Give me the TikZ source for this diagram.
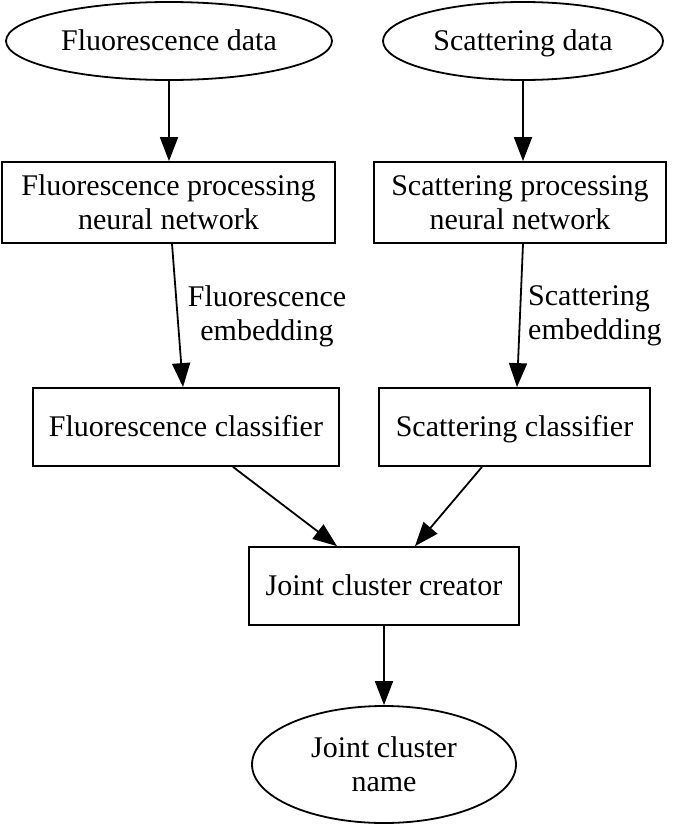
\documentclass[tikz,border=0pt]{standalone}
\usepackage{fontspec}
\setmainfont{Liberation Serif}
\usetikzlibrary{arrows.meta,shapes.geometric}
\begin{document}
\begin{tikzpicture}[x=1pt,y=-1pt,
  every node/.style={font=\fontsize{30}{34}\selectfont, inner sep=0pt},
  one/.style={text height=21pt, text depth=3pt},
  ell/.style={draw, ellipse, line width=1.8pt},
  box/.style={draw, rectangle, line width=1.8pt, align=center},
  edge/.style={line width=1.8pt, -{Triangle[length=24pt,width=18pt]}},
  lbl/.style={font=\fontsize{30}{34}\selectfont}]
\useasboundingbox (0,0) rectangle (675,825);
\node[ell, one, minimum width=326pt, minimum height=78pt] (fd) at (169,41) {Fluorescence data};
\node[ell, one, minimum width=280pt, minimum height=78pt] (sd) at (523,41) {Scattering data};
\node[box, minimum width=333pt, minimum height=81pt] (fp) at (168.5,202.5) {Fluorescence processing\\neural network};
\node[box, minimum width=292pt, minimum height=81pt] (sp) at (520,202.5) {Scattering processing\\neural network};
\node[box, one, minimum width=306pt, minimum height=78pt] (fc) at (186,427) {Fluorescence classifier};
\node[box, one, minimum width=271pt, minimum height=78pt] (sc) at (514.5,427) {Scattering classifier};
\node[box, one, minimum width=270pt, minimum height=78pt] (jc) at (384,586) {Joint cluster creator};
\node[ell, minimum width=264pt, minimum height=117pt, align=center] (jn) at (384,764.5) {Joint cluster\\name};
\node[lbl, align=center] (fl) at (267,316) {Fluorescence\\embedding};
\node[lbl, align=left, anchor=west] (sl) at (528,316) {Scattering\\embedding};
\draw[edge] (fd.south) -- (fd.south |- fp.north);
\draw[edge] (sd.south) -- (sd.south |- sp.north);
\draw[edge] ([xshift=3.5pt]fp.south) -- ([xshift=-3pt]fc.north);
\draw[edge] ([xshift=3pt]sp.south) -- ([xshift=2.5pt]sc.north);
\draw[edge] ([xshift=47pt]fc.south) -- ([xshift=-47pt]jc.north);
\draw[edge] ([xshift=-32.5pt]sc.south) -- ([xshift=31pt]jc.north);
\draw[edge] (jc.south) -- (jn.north);
\end{tikzpicture}
\end{document}
